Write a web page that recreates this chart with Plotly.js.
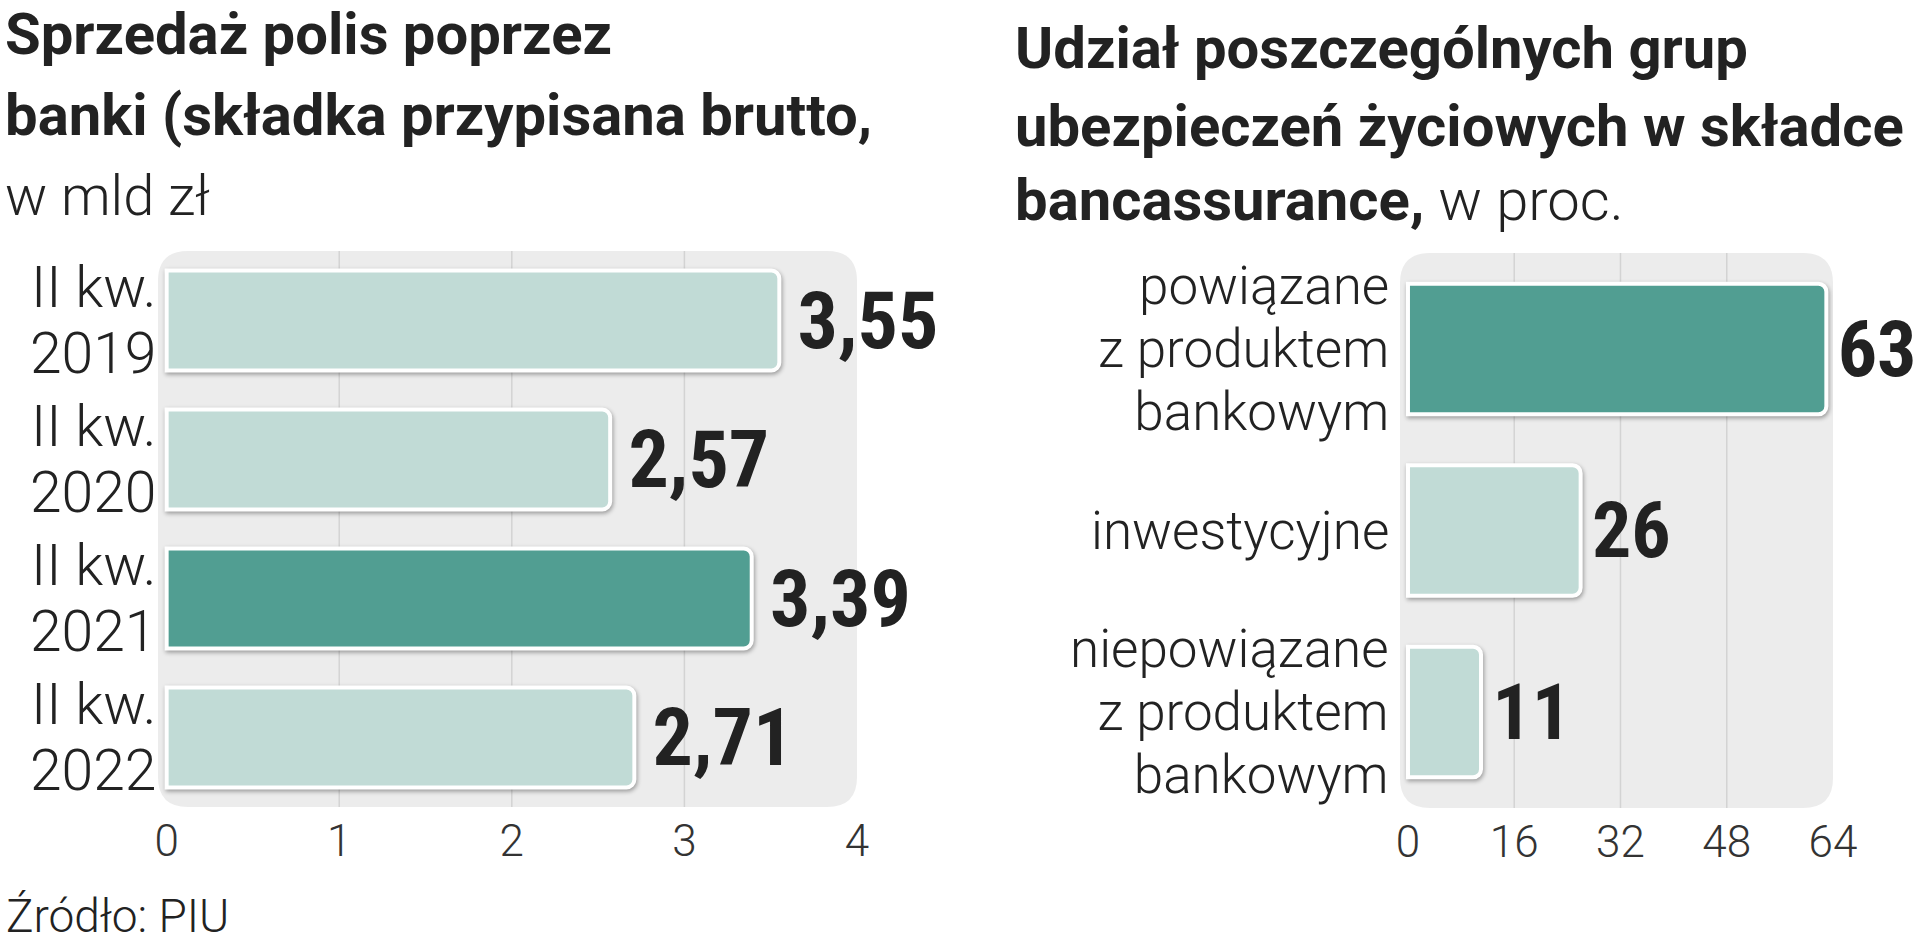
<!DOCTYPE html>
<html><head><meta charset="utf-8">
<script src="https://cdn.plot.ly/plotly-3.0.1.min.js"></script>
<style>
html,body{margin:0;padding:0;background:#fff;overflow:hidden;}
#chart{width:1920px;height:947px;}
.bars .point path{filter:drop-shadow(1px 2px 2px rgba(0,0,0,0.35));}
</style></head><body><div id="chart"></div>
<script>
// ---- data ----
const salesCategories = ['II kw.<br>2019', 'II kw.<br>2020', 'II kw.<br>2021', 'II kw.<br>2022'];
const salesValues = [3.55, 2.57, 3.39, 2.71];
const salesTicks = [0, 1, 2, 3, 4];

const shareCategories = ['powiązane<br>z produktem<br>bankowym', 'inwestycyjne', 'niepowiązane<br>z produktem<br>bankowym'];
const shareValues = [63, 26, 11];
const shareTicks = [0, 16, 32, 48, 64];

const leftTitleLines = ['<b>Sprzedaż polis poprzez</b>', '<b>banki (składka przypisana brutto,</b>', 'w mld zł'];
const rightTitleLines = ['<b>Udział poszczególnych grup</b>', '<b>ubezpieczeń życiowych w składce</b>', '<b>bancassurance,</b> w proc.'];
const sourceText = 'Źródło: PIU';

// ---- styling ----
const W = 1920, H = 947;
const DARK = '#519e92', LIGHT = '#c1dbd6', BG = '#ececec', GRID = '#d3d3d3', TXT = '#222222';
const FONT = 'Roboto, "Open Sans", sans-serif';
const NARROW = '"Liberation Sans Narrow", "Roboto Condensed", Roboto, sans-serif';
const salesColors = salesValues.map((v, i) => i === 2 ? DARK : LIGHT);
const shareColors = shareValues.map((v, i) => i === 0 ? DARK : LIGHT);

const px = x => x / W, py = y => 1 - y / H;
const L = {x0: 158, x1: 857, y0: 251, y1: 807};
const R = {x0: 1400, x1: 1833, y0: 253, y1: 808};

function rr(b, r) {
  const P = (x, y) => px(x) + ',' + py(y);
  return 'M' + P(b.x0 + r, b.y0) + ' L' + P(b.x1 - r, b.y0) + ' Q' + P(b.x1, b.y0) + ' ' + P(b.x1, b.y0 + r) +
    ' L' + P(b.x1, b.y1 - r) + ' Q' + P(b.x1, b.y1) + ' ' + P(b.x1 - r, b.y1) +
    ' L' + P(b.x0 + r, b.y1) + ' Q' + P(b.x0, b.y1) + ' ' + P(b.x0, b.y1 - r) +
    ' L' + P(b.x0, b.y0 + r) + ' Q' + P(b.x0, b.y0) + ' ' + P(b.x0 + r, b.y0) + ' Z';
}

const traces = [
  {
    type: 'bar', orientation: 'h', x: salesValues, y: salesCategories, xaxis: 'x', yaxis: 'y',
    marker: {color: salesColors, line: {color: '#ffffff', width: 4}, cornerradius: 8},
    texttemplate: '<span style="font-size:66px">\u00a0</span>%{x:.2f}', textposition: 'outside', constraintext: 'none', cliponaxis: false,
    textfont: {family: NARROW, size: 80, color: TXT, weight: 700},
    hoverinfo: 'skip'
  },
  {
    type: 'bar', orientation: 'h', x: shareValues, y: shareCategories, xaxis: 'x2', yaxis: 'y2',
    marker: {color: shareColors, line: {color: '#ffffff', width: 4}, cornerradius: 8},
    texttemplate: '<span style="font-size:36px">\u00a0</span>%{x}', textposition: 'outside', constraintext: 'none', cliponaxis: false,
    textfont: {family: NARROW, size: 78, color: TXT, weight: 700},
    hoverinfo: 'skip'
  }
];

const shapes = [
  {type: 'path', xref: 'paper', yref: 'paper', path: rr(L, 30), fillcolor: BG, line: {width: 0}, layer: 'below'},
  {type: 'path', xref: 'paper', yref: 'paper', path: rr(R, 30), fillcolor: BG, line: {width: 0}, layer: 'below'}
];
salesTicks.slice(1, -1).forEach(t => shapes.push({type: 'line', xref: 'x', yref: 'y domain', x0: t, x1: t, y0: 0, y1: 1, line: {color: GRID, width: 1.5}, layer: 'below'}));
shareTicks.slice(1, -1).forEach(t => shapes.push({type: 'line', xref: 'x2', yref: 'y2 domain', x0: t, x1: t, y0: 0, y1: 1, line: {color: GRID, width: 1.5}, layer: 'below'}));

const annotations = [];
const leftTitleY = [34, 115, 196];
const rightTitleY = [48, 126, 200];
leftTitleLines.forEach((t, i) => annotations.push({text: t, xref: 'paper', yref: 'paper', x: px(3), y: py(leftTitleY[i]), xanchor: 'left', yanchor: 'middle', showarrow: false, font: {family: FONT, size: i < 2 ? 58 : 56, color: TXT, weight: 300}}));
rightTitleLines.forEach((t, i) => annotations.push({text: t, xref: 'paper', yref: 'paper', x: px(1013), y: py(rightTitleY[i]), xanchor: 'left', yanchor: 'middle', showarrow: false, font: {family: FONT, size: 58, color: TXT, weight: 300}}));
annotations.push({text: sourceText, xref: 'paper', yref: 'paper', x: px(4), y: py(916), xanchor: 'left', yanchor: 'middle', showarrow: false, font: {family: FONT, size: 46, color: TXT, weight: 300}});

// category labels: one annotation per category, placed on the category axis;
// base font sets the (tight) line spacing, the span sets the glyph size
function addCategoryLabels(cats, yref, xRight, glyphSize, baseSize) {
  cats.forEach(c => {
    const text = c.split('<br>').map(ln => '<span style="font-size:' + glyphSize + 'px">' + ln + '</span>').join('<br>');
    annotations.push({
      text: text, xref: 'paper', yref: yref, x: px(xRight), y: c, xanchor: 'right', yanchor: 'middle',
      align: 'right', showarrow: false,
      font: {family: FONT, size: baseSize, color: TXT, weight: 300}
    });
  });
}
addCategoryLabels(salesCategories, 'y', 158, 57, 51);
addCategoryLabels(shareCategories, 'y2', 1391, 53, 48.5);

const tickFont = {family: FONT, size: 44, color: '#333333', weight: 300};

const layout = {
  width: W, height: H,
  margin: {l: 0, r: 0, t: 0, b: 0},
  paper_bgcolor: '#ffffff', plot_bgcolor: 'rgba(0,0,0,0)',
  separators: ', ',
  showlegend: false,
  bargap: 0.28,
  xaxis: {domain: [px(L.x0), px(L.x1)], range: [-0.05, 4], tickvals: salesTicks, showgrid: false, zeroline: false, showline: false, ticks: '', tickfont: tickFont, ticklabelstandoff: 4, automargin: false, fixedrange: true},
  yaxis: {domain: [py(L.y1), py(L.y0)], type: 'category', categoryorder: 'array', categoryarray: salesCategories, autorange: 'reversed', showgrid: false, zeroline: false, ticks: '', showticklabels: false, automargin: false, fixedrange: true},
  xaxis2: {domain: [px(R.x0), px(R.x1)], range: [-1.2, 64], tickvals: shareTicks, anchor: 'y2', showgrid: false, zeroline: false, showline: false, ticks: '', tickfont: tickFont, ticklabelstandoff: 4, automargin: false, fixedrange: true},
  yaxis2: {domain: [py(R.y1), py(R.y0)], anchor: 'x2', type: 'category', categoryorder: 'array', categoryarray: shareCategories, autorange: 'reversed', showgrid: false, zeroline: false, ticks: '', showticklabels: false, automargin: false, fixedrange: true},
  shapes: shapes,
  annotations: annotations
};

Plotly.newPlot('chart', traces, layout, {displayModeBar: false, staticPlot: true});
</script></body></html>
